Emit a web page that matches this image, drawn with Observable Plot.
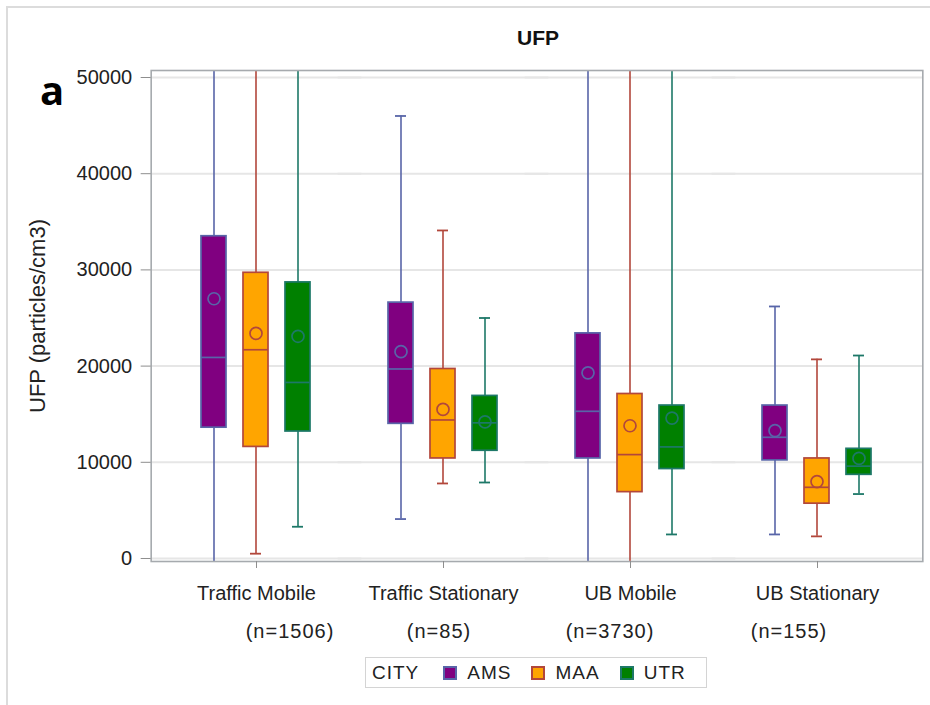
<!DOCTYPE html>
<html>
<head>
<meta charset="utf-8">
<script src="https://cdn.jsdelivr.net/npm/d3@7"></script>
<script src="https://cdn.jsdelivr.net/npm/@observablehq/plot@0.6"></script>
<style>
  html, body { margin: 0; padding: 0; background: #fff; }
  #page { position: relative; width: 930px; height: 705px; overflow: hidden;
          font-family: "Liberation Sans", Arial, sans-serif; color: #222; }
  #border { position: absolute; left: 6px; top: 6px; width: 940px; height: 720px; z-index: 2;
            border-left: 2px solid #dcdcdc; border-top: 2px solid #dcdcdc; pointer-events: none; }
  #chart { position: absolute; left: 0; top: 0; }
  .abs { position: absolute; white-space: nowrap; }
  #title { left: 538px; top: 26px; transform: translateX(-50%); font-weight: bold; font-size: 21px; color: #111; }
  #panel { left: 40px; top: 62px; font-family: "Open Sans", Arial, sans-serif; font-weight: 700; font-size: 40px; color: #000; }
  #ylabel { left: 38px; top: 316px; transform: translate(-50%, -50%) rotate(-90deg); font-size: 22px; color: #222; }
  .ncount { top: 620px; font-size: 20px; letter-spacing: 1px; transform: translateX(-50%); color: #222; }
  #legend { left: 365px; top: 657px; width: 342px; height: 31px; border: 1px solid #d4d4d4;
            display: flex; align-items: center; font-size: 19px; letter-spacing: 1px; color: #222; box-sizing: border-box; }
  #legend .item { display: flex; align-items: center; margin-left: 20px; }
  #legend .sw { width: 14px; height: 14px; border: 2px solid; margin-right: 10px; box-sizing: border-box; }
</style>
</head>
<body>
<div id="page">
  <div id="chart"></div>
  <div id="border"></div>
  <div id="title" class="abs">UFP</div>
  <div id="panel" class="abs">a</div>
  <div id="ylabel" class="abs">UFP (particles/cm3)</div>
</div>
<script>
// Sampling situations and cities
const groups = ["Traffic Mobile", "Traffic Stationary", "UB Mobile", "UB Stationary"];
const cities = ["AMS", "MAA", "UTR"];
const counts = ["(n=1506)", "(n=85)", "(n=3730)", "(n=155)"];
const countCenters = [290, 439, 610, 789];

// Box statistics per group, cities in order AMS, MAA, UTR (particles/cm3).
// Whiskers that run past the axis range are given values beyond it and clipped.
const whiskerLow = [
  -1000, 500, 3300,
  4100, 7800, 7900,
  -1000, -1000, 2500,
  2500, 2300, 6700
];
const q1 = [
  13600, 11600, 13200,
  14000, 10400, 11200,
  10400, 6900, 9300,
  10200, 5700, 8700
];
const median = [
  20900, 21700, 18300,
  19700, 14400, 14100,
  15300, 10800, 11600,
  12600, 7400, 9600
];
const q3 = [
  33500, 29700, 28700,
  26600, 19700, 16900,
  23400, 17100, 15900,
  15900, 10400, 11400
];
const mean = [
  27000, 23400, 23100,
  21500, 15500, 14200,
  19300, 13800, 14600,
  13300, 8000, 10400
];
const whiskerHigh = [
  60000, 60000, 60000,
  46000, 34100, 25000,
  60000, 60000, 60000,
  26200, 20700, 21100
];
const yTicks = [0, 10000, 20000, 30000, 40000, 50000];

// City styling
const fillColor = { AMS: "#800080", MAA: "#ffa500", UTR: "#008000" };
const lineColor = { AMS: "#5865a8", MAA: "#b2473b", UTR: "#1d7868" };

const rows = [];
groups.forEach((g, gi) => cities.forEach((c, ci) => {
  const i = gi * 3 + ci;
  rows.push({ group: g, city: c, lo: whiskerLow[i], q1: q1[i], med: median[i],
              q3: q3[i], mean: mean[i], hi: whiskerHigh[i] });
}));

const W = 930, H = 615;
const mLeft = 151, mRight = 7;
const fxInner = 0.1, fxOuter = 0.114;
// outer gap between the plot frame and the first/last facet band
const fxStep = (W - mLeft - mRight) / (groups.length - fxInner + 2 * fxOuter);
const edgeGap = fxOuter * fxStep;

const plot = Plot.plot({
  width: W,
  height: H,
  marginLeft: mLeft,
  marginRight: mRight,
  marginTop: 70,
  marginBottom: H - 561,
  style: { background: "transparent", fontFamily: "Liberation Sans, Arial, sans-serif", fontSize: "20px", color: "#222" },
  fx: { domain: groups, paddingInner: fxInner, paddingOuter: fxOuter, label: null, axis: null },
  x: { domain: cities, paddingInner: 0.395, paddingOuter: 0.654, axis: null },
  y: { domain: [-312, 50728], label: null },
  color: { type: "identity" },
  marks: [
    // grid lines, stretched over the gaps between facet bands
    Plot.ruleY(yTicks, { stroke: "#e6e6e6", strokeWidth: 2, insetLeft: -edgeGap, insetRight: -edgeGap }),
    Plot.ruleX(rows, { fx: "group", x: "city", y1: "lo", y2: "hi", stroke: d => lineColor[d.city], strokeWidth: 1.6, clip: true }),
    Plot.tickY(rows, { fx: "group", x: "city", y: "lo", stroke: d => lineColor[d.city], strokeWidth: 1.8, insetLeft: 7, insetRight: 7, clip: true }),
    Plot.tickY(rows, { fx: "group", x: "city", y: "hi", stroke: d => lineColor[d.city], strokeWidth: 1.8, insetLeft: 7, insetRight: 7, clip: true }),
    Plot.barY(rows, { fx: "group", x: "city", y1: "q1", y2: "q3", fill: d => fillColor[d.city], stroke: d => lineColor[d.city], strokeWidth: 1.7 }),
    Plot.tickY(rows, { fx: "group", x: "city", y: "med", stroke: d => lineColor[d.city], strokeWidth: 1.7 }),
    Plot.dot(rows, { fx: "group", x: "city", y: "mean", r: 6, stroke: d => lineColor[d.city], strokeWidth: 1.7, fill: "none" }),
    Plot.frame({ facet: "super", stroke: "#a6aaae", strokeWidth: 1.6, insetLeft: -edgeGap, insetRight: -edgeGap }),
    Plot.axisY({ ticks: yTicks, tickFormat: d => String(d), tickSize: 10, tickPadding: 9, dx: -edgeGap, stroke: "#8e8e8e", fill: "#222", fontSize: 20, label: null }),
    Plot.axisFx({ anchor: "bottom", tickSize: 7, tickPadding: 17, stroke: "#8e8e8e", fill: "#222", fontSize: 20, label: null })
  ]
});
document.getElementById("chart").appendChild(plot);

// Sample size line under the category labels
const page = document.getElementById("page");
counts.forEach((t, i) => {
  const el = document.createElement("div");
  el.className = "abs ncount";
  el.style.left = countCenters[i] + "px";
  el.textContent = t;
  page.appendChild(el);
});

// City legend
const legend = document.createElement("div");
legend.id = "legend";
legend.className = "abs";
const head = document.createElement("span");
head.textContent = "CITY";
head.style.marginLeft = "6px";
head.style.marginRight = "4px";
legend.appendChild(head);
cities.forEach(c => {
  const item = document.createElement("span");
  item.className = "item";
  const sw = document.createElement("span");
  sw.className = "sw";
  sw.style.background = fillColor[c];
  sw.style.borderColor = lineColor[c];
  const lab = document.createElement("span");
  lab.textContent = c;
  item.appendChild(sw);
  item.appendChild(lab);
  legend.appendChild(item);
});
page.appendChild(legend);
</script>
</body>
</html>
